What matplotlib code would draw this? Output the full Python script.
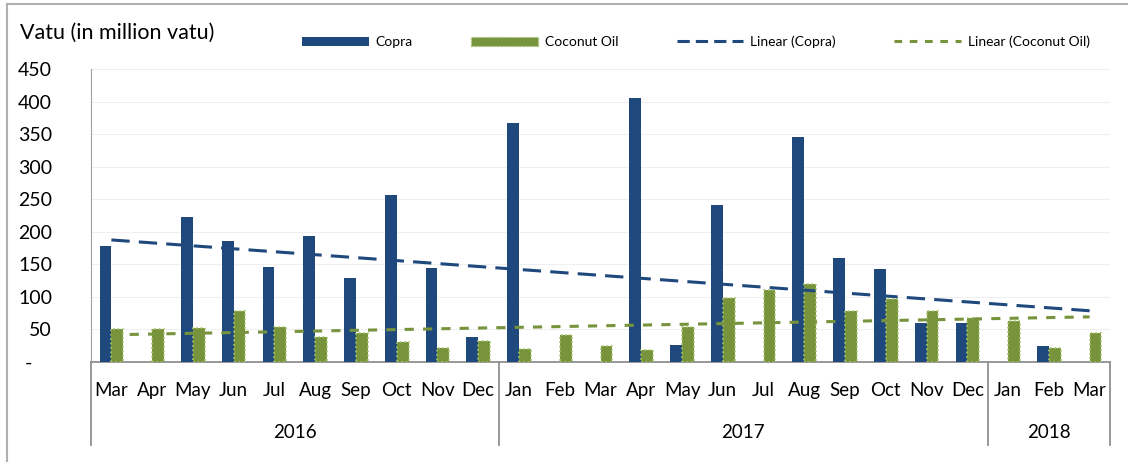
import matplotlib.pyplot as plt
import matplotlib.transforms as mtransforms
from matplotlib.patches import Patch
from matplotlib.lines import Line2D
import numpy as np

plt.rcParams['font.family'] = ['Lato', 'DejaVu Sans']

months = ["Mar", "Apr", "May", "Jun", "Jul", "Aug", "Sep", "Oct", "Nov", "Dec",
          "Jan", "Feb", "Mar", "Apr", "May", "Jun", "Jul", "Aug", "Sep", "Oct", "Nov", "Dec",
          "Jan", "Feb", "Mar"]
years = ["2016", "2017", "2018"]
year_counts = [10, 12, 3]

copra = [178, 0, 223, 186, 146, 194, 129, 257, 144, 38,
         367, 0, 0, 405, 26, 241, 0, 346, 160, 143, 60, 60,
         0, 24, 0]
coconut_oil = [50, 50, 52, 78, 53, 39, 44, 31, 21, 33,
               20, 42, 25, 19, 53, 98, 111, 120, 78, 97, 78, 68,
               63, 22, 44]

copra_col = "#1F497D"
oil_col = "#77933C"

fig = plt.figure(figsize=(11.28, 4.62), dpi=100)
ax = fig.add_axes([91 / 1128, 100 / 462, (1110 - 91) / 1128, 293 / 462])

x = np.arange(len(months))
w = 0.29
ax.bar(x - w / 2, copra, w, color=copra_col, zorder=3)
ax.bar(x + w / 2, coconut_oil, w, color=oil_col, edgecolor="#A9C56E",
       linestyle=":", linewidth=1.2, zorder=3)

# linear trendlines
pc = np.polyfit(x, copra, 1)
po = np.polyfit(x, coconut_oil, 1)
ax.plot(x, np.polyval(pc, x), color=copra_col, lw=2.2, dashes=(6, 3), zorder=4)
ax.plot(x, np.polyval(po, x), color=oil_col, lw=2.2, dashes=(3, 3), zorder=4)

ax.set_xlim(-0.5, len(months) - 0.5)
ax.set_ylim(0, 450)
ax.set_yticks(range(0, 451, 50))
ax.set_yticklabels(["-    "] + [str(v) for v in range(50, 451, 50)], fontsize=14)
ax.tick_params(axis="y", length=0, pad=28)
ax.set_xticks([])
ax.yaxis.grid(True, color="#EFEFEF", lw=0.8, zorder=0)
for s in ["top", "right"]:
    ax.spines[s].set_visible(False)
ax.spines["left"].set_color("#A0A0A0")
ax.spines["bottom"].set_color("#909090")
ax.spines["bottom"].set_linewidth(1.3)

trans = mtransforms.blended_transform_factory(ax.transData, ax.transAxes)
for i, m in enumerate(months):
    ax.text(i, -0.096, m, transform=trans, ha="center", va="center", fontsize=13.5)

start = 0
bounds = [-0.5]
for yr, n in zip(years, year_counts):
    ax.text(start + (n - 1) / 2, -0.24, yr, transform=trans, ha="center",
            va="center", fontsize=13.5)
    start += n
    bounds.append(start - 0.5)
for b in bounds:
    ax.plot([b, b], [0, -0.283], transform=trans, color="#909090", lw=1.3,
            clip_on=False)

fig.text(20 / 1128, 1 - 33 / 462, "Vatu (in million vatu)", fontsize=15.5,
         ha="left", va="center")

handles = [
    Patch(facecolor=copra_col),
    Patch(facecolor=oil_col, edgecolor="#A9C56E", linestyle=":"),
    Line2D([0], [0], color=copra_col, lw=2.2, dashes=(4, 2)),
    Line2D([0], [0], color=oil_col, lw=2.2, dashes=(2.5, 2.5)),
]
labels = ["Copra", "Coconut Oil", "Linear (Copra)", "Linear (Coconut Oil)"]
fig.legend(handles, labels, loc="center", bbox_to_anchor=(696 / 1128, 1 - 42 / 462),
           ncol=4, frameon=False, fontsize=10, handlelength=4.8, handleheight=0.7,
           columnspacing=4.2, handletextpad=0.5)

# outer frame
fig.add_artist(Line2D([7 / 1128, 7 / 1128], [0, 1 - 4 / 462], transform=fig.transFigure,
                      color="#B0B0B0", lw=1.5))
fig.add_artist(Line2D([7 / 1128, 1], [1 - 4 / 462, 1 - 4 / 462], transform=fig.transFigure,
                      color="#B0B0B0", lw=1.5))

fig.savefig("out.png", dpi=100)
